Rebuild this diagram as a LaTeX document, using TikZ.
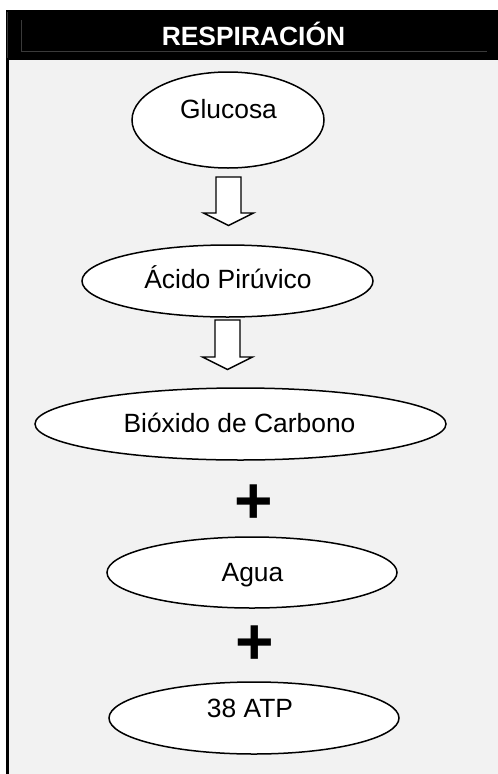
\documentclass[tikz,border=0pt]{standalone}
\usepackage{fontspec}
\setmainfont{Liberation Sans}
\usetikzlibrary{shapes.geometric}
\definecolor{bodygray}{HTML}{F2F2F2}
\definecolor{hdrline}{HTML}{3A3A3A}
\begin{document}
\begin{tikzpicture}[x=1pt,y=-1pt,
  oval/.style={ellipse, draw=black, line width=1.5pt, fill=white, inner sep=0pt},
  lbl/.style={anchor=base, font=\fontsize{26.4}{30}\selectfont, inner sep=0pt},
  titlelbl/.style={anchor=base, text=white, font=\fontsize{26.4}{30}\selectfont\bfseries, inner sep=0pt},
  plussign/.style={anchor=base, font=\fontsize{66}{66}\selectfont\bfseries, inner sep=0pt},
  arrowline/.style={draw=black, line width=1.4pt, fill=white, line join=miter},
  blockarrow/.pic={
    \path[arrowline] (-12.5,0) -- (12.5,0) -- (12.5,#1) -- (25,#1) -- (0,#1+12.5)
      -- (-25,#1) -- (-12.5,#1) -- cycle;
  }]
\useasboundingbox (0,0) rectangle (498,774);
% background
\fill[white] (0,0) rectangle (498,774);
\fill[black] (6,10) rectangle (498,60);
\fill[bodygray] (8,60) rectangle (498,774);
\fill[black] (6,60) rectangle (9,774);
\draw[hdrline, line width=1pt] (21,20) -- (21,51) -- (487,51);
\draw[hdrline, line width=1pt] (7.5,12) -- (7.5,58);
% title
\node[titlelbl] (title) at (253.5,45) {RESPIRACIÓN};
% ellipses
\node[oval, minimum width=192pt, minimum height=96pt] (glu) at (228,120) {};
\node[oval, minimum width=291pt, minimum height=72pt] (aci) at (227.5,281) {};
\node[oval, minimum width=411pt, minimum height=72pt] (bio) at (240.5,424) {};
\node[oval, minimum width=290pt, minimum height=71pt] (agua) at (252,572.5) {};
\node[oval, minimum width=290pt, minimum height=72pt] (atp) at (254,718) {};
% labels
\node[lbl] (gluT) at (228.5,118) {Glucosa};
\node[lbl] (aciT) at (228,288) {Ácido Pirúvico};
\node[lbl] (bioT) at (239.5,432) {Bióxido de Carbono};
\node[lbl] (aguaT) at (252.5,581) {Agua};
\node[lbl] (atpT) at (250,717) {38 ATP};
% block arrows
\pic at (228.5,177) {blockarrow=36};
\pic at (227.5,320) {blockarrow=37};
% plus signs
\node[plussign] (plusA) at (254,523.8) {+};
\node[plussign] (plusB) at (254.5,664.3) {+};
\end{tikzpicture}
\end{document}
